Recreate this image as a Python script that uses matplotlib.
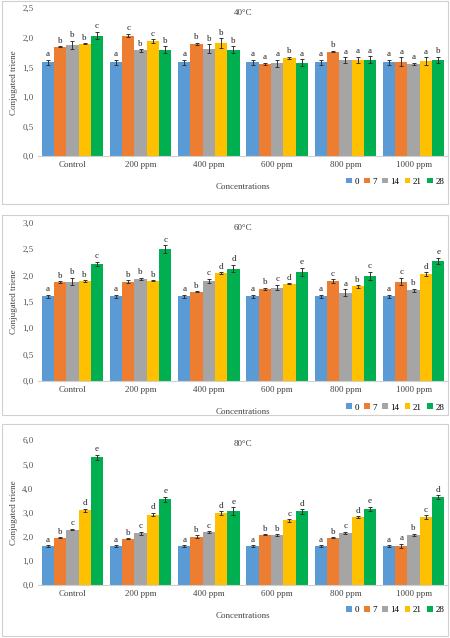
import numpy as np
import matplotlib.pyplot as plt
from matplotlib.patches import Rectangle

plt.rcParams['font.family'] = ['Liberation Serif', 'DejaVu Serif']

groups = ['Control', '200 ppm', '400 ppm', '600 ppm', '800 ppm', '1000 ppm']
days = ['0', '7', '14', '21', '28']
colors = ['#5B9BD5', '#ED7D31', '#A5A5A5', '#FFC000', '#00B050']

# rows = groups, columns = days
v40 = [[1.59, 1.85, 1.88, 1.90, 2.04],
       [1.59, 2.04, 1.79, 1.95, 1.80],
       [1.59, 1.90, 1.82, 1.91, 1.80],
       [1.59, 1.56, 1.57, 1.66, 1.58],
       [1.59, 1.77, 1.62, 1.63, 1.63],
       [1.59, 1.60, 1.56, 1.61, 1.63]]
e40 = [[0.04, 0.01, 0.07, 0.01, 0.06],
       [0.04, 0.03, 0.02, 0.03, 0.06],
       [0.04, 0.02, 0.07, 0.08, 0.06],
       [0.04, 0.02, 0.06, 0.02, 0.06],
       [0.04, 0.01, 0.05, 0.05, 0.06],
       [0.04, 0.07, 0.02, 0.06, 0.05]]
l40 = ['abbbc', 'acbcb', 'abbbb', 'aaaba', 'abaaa', 'aaaab']

v60 = [[1.60, 1.87, 1.88, 1.89, 2.22],
       [1.60, 1.88, 1.94, 1.90, 2.50],
       [1.60, 1.69, 1.90, 2.04, 2.13],
       [1.60, 1.74, 1.77, 1.84, 2.06],
       [1.60, 1.89, 1.67, 1.79, 1.99],
       [1.60, 1.88, 1.72, 2.02, 2.27]]
e60 = [[0.03, 0.02, 0.07, 0.02, 0.04],
       [0.03, 0.03, 0.02, 0.01, 0.07],
       [0.03, 0.01, 0.04, 0.02, 0.07],
       [0.03, 0.02, 0.05, 0.01, 0.08],
       [0.03, 0.04, 0.07, 0.02, 0.08],
       [0.03, 0.07, 0.03, 0.04, 0.06]]
l60 = ['abbbc', 'abbbc', 'abcdd', 'abcde', 'acabc', 'acbde']

v80 = [[1.60, 1.96, 2.30, 3.10, 5.30],
       [1.60, 1.91, 2.15, 2.92, 3.55],
       [1.60, 2.01, 2.20, 2.98, 3.07],
       [1.60, 2.08, 2.08, 2.68, 3.05],
       [1.60, 1.96, 2.15, 2.82, 3.15],
       [1.60, 1.63, 2.07, 2.82, 3.65]]
e80 = [[0.04, 0.03, 0.03, 0.06, 0.10],
       [0.04, 0.02, 0.06, 0.07, 0.10],
       [0.04, 0.05, 0.04, 0.07, 0.15],
       [0.04, 0.02, 0.03, 0.05, 0.09],
       [0.04, 0.02, 0.05, 0.03, 0.10],
       [0.04, 0.08, 0.05, 0.07, 0.08]]
l80 = ['abcde', 'abcde', 'abcde', 'abbcd', 'abcde', 'aabcd']

panels = [('40°C', v40, e40, l40, 2.5, 0.5, [0.085, 0.755, 0.91, 0.232], [0.004, 0.68, 0.992, 0.318]),
          ('60°C', v60, e60, l60, 3.0, 0.5, [0.085, 0.403, 0.91, 0.248], [0.004, 0.35, 0.992, 0.313]),
          ('80°C', v80, e80, l80, 6.0, 1.0, [0.085, 0.083, 0.91, 0.227], [0.004, 0.003, 0.992, 0.333])]

fig = plt.figure(figsize=(4.5, 6.38), dpi=100)
x = np.arange(len(groups))
w = 0.18
for title, vals, errs, letters, ymax, step, pos, box in panels:
    fig.patches.append(Rectangle((box[0], box[1]), box[2], box[3], transform=fig.transFigure,
                                 fill=False, edgecolor='#D0D0D0', lw=0.8))
    ax = fig.add_axes(pos)
    vals = np.array(vals)
    errs = np.array(errs)
    for j in range(len(days)):
        xs = x + (j - 2) * w
        ax.bar(xs, vals[:, j], w, color=colors[j], label=days[j],
               yerr=errs[:, j], error_kw=dict(elinewidth=0.7, capsize=1.5, capthick=0.7, ecolor='#333333'))
        for i in range(len(groups)):
            ax.text(xs[i], vals[i, j] + errs[i, j] + ymax * 0.01, letters[i][j],
                    ha='center', va='bottom', fontsize=6.5, color='#222222')
    ax.set_xlim(-0.5, len(groups) - 0.5)
    ax.set_ylim(0, ymax)
    ticks = np.arange(0, ymax + 0.001, step)
    ax.set_yticks(ticks)
    ax.set_yticklabels([f'{t:.1f}'.replace('.', ',') for t in ticks], fontsize=6.5, color='#555555')
    ax.set_xticks(x)
    ax.set_xticklabels(groups, fontsize=6.5, color='#444444')
    ax.tick_params(length=0)
    for s in ['top', 'right', 'left']:
        ax.spines[s].set_visible(False)
    ax.spines['bottom'].set_color('#D0D0D0')
    ax.set_ylabel('Conjugated triene', fontsize=6.5, color='#444444', labelpad=3)
    ax.set_xlabel('Concentrations', fontsize=6.5, color='#444444', labelpad=10)
    ax.set_title(title, fontsize=6.5, color='#444444', y=0.9)
    ax.legend(loc='upper right', bbox_to_anchor=(1.0, -0.12), ncol=5, fontsize=6.5, frameon=False,
              handlelength=0.6, handleheight=0.6, handletextpad=0.3, columnspacing=0.6,
              borderaxespad=0)

fig.savefig('out.png', dpi=100)
